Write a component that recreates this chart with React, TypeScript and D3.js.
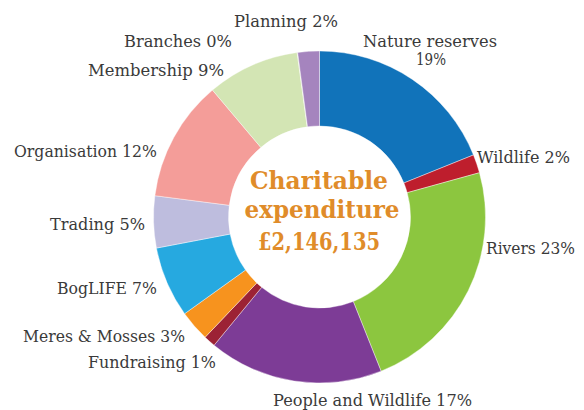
import React from "react";
import * as d3 from "d3";

const categories = [
  "Nature reserves",
  "Wildlife",
  "Rivers",
  "People and Wildlife",
  "Fundraising",
  "Meres & Mosses",
  "BogLIFE",
  "Trading",
  "Organisation",
  "Membership",
  "Branches",
  "Planning",
];
const values = [18.9, 1.8, 23.25, 17.0, 1.15, 3.0, 6.9, 5.05, 11.8, 9.0, 0.05, 2.1];
const percentLabels = ["19%", "2%", "23%", "17%", "1%", "3%", "7%", "5%", "12%", "9%", "0%", "2%"];
const colors = [
  "#1173BA", "#BE1E2D", "#8CC63F", "#7D3C96", "#9C2235", "#F7931E",
  "#26A9E0", "#BEBDDE", "#F49D99", "#D3E5B4", "#D3E5B4", "#A584BE",
];
const centerLines = ["Charitable", "expenditure", "£2,146,135"];

// label layout: left x, baseline y, target width
const labelLayout: Record<string, { x: number; y: number; w: number; two?: boolean }> = {
  "Nature reserves": { x: 363, y: 47, w: 134, two: true },
  Wildlife: { x: 477, y: 163, w: 93 },
  Rivers: { x: 486, y: 254, w: 89 },
  "People and Wildlife": { x: 273, y: 406, w: 199 },
  Fundraising: { x: 88, y: 368, w: 128 },
  "Meres & Mosses": { x: 23, y: 342, w: 162 },
  BogLIFE: { x: 57, y: 294, w: 100 },
  Trading: { x: 50, y: 230, w: 95 },
  Organisation: { x: 14, y: 157, w: 143 },
  Membership: { x: 88, y: 76, w: 136 },
  Branches: { x: 124, y: 47, w: 108 },
  Planning: { x: 234, y: 27, w: 104 },
};

const W = 584;
const H = 410;
const cx = 319.5;
const cy = 217;
const outerR = 166;
const innerR = 91;

export default function App() {
  const data = categories.map((c, i) => ({ c, v: values[i], i }));
  const pie = d3.pie<any>().sort(null).value((d) => d.v);
  const arcs = pie(data);
  const arc = d3.arc<any>().innerRadius(innerR).outerRadius(outerR);
  const labelFont = "'DejaVu Serif', serif";
  const fs = 16.5;

  return (
    <svg
      width={W}
      height={H}
      style={{ position: "absolute", left: 0, top: 0, background: "#fff" }}
    >
      <g transform={`translate(${cx},${cy})`}>
        {arcs.map((a, i) => (
          <path
            key={i}
            d={arc(a) || ""}
            fill={colors[i]}
            stroke="#fff"
            strokeWidth={0.4}
          />
        ))}
      </g>
      {categories.map((c, i) => {
        const L = labelLayout[c];
        if (L.two) {
          return (
            <g key={c} fill="#3a3a3a" fontFamily={labelFont} fontSize={fs}>
              <text x={L.x} y={L.y} textLength={L.w} lengthAdjust="spacingAndGlyphs">
                {c}
              </text>
              <text x={L.x + L.w / 2 + 1} y={L.y + 18} textAnchor="middle" textLength={30} lengthAdjust="spacingAndGlyphs">
                {percentLabels[i]}
              </text>
            </g>
          );
        }
        return (
          <text
            key={c}
            x={L.x}
            y={L.y}
            fill="#3a3a3a"
            fontFamily={labelFont}
            fontSize={fs}
            textLength={L.w}
            lengthAdjust="spacingAndGlyphs"
          >
            {`${c} ${percentLabels[i]}`}
          </text>
        );
      })}
      <g fill="#E08C2A" fontFamily={labelFont} fontWeight="bold" fontSize={23.5} textAnchor="middle">
        <text x={319} y={188.5} textLength={138} lengthAdjust="spacingAndGlyphs">
          {centerLines[0]}
        </text>
        <text x={322} y={218} textLength={155} lengthAdjust="spacingAndGlyphs">
          {centerLines[1]}
        </text>
        <text x={319} y={249.5} textLength={122} lengthAdjust="spacingAndGlyphs">
          {centerLines[2]}
        </text>
      </g>
    </svg>
  );
}
